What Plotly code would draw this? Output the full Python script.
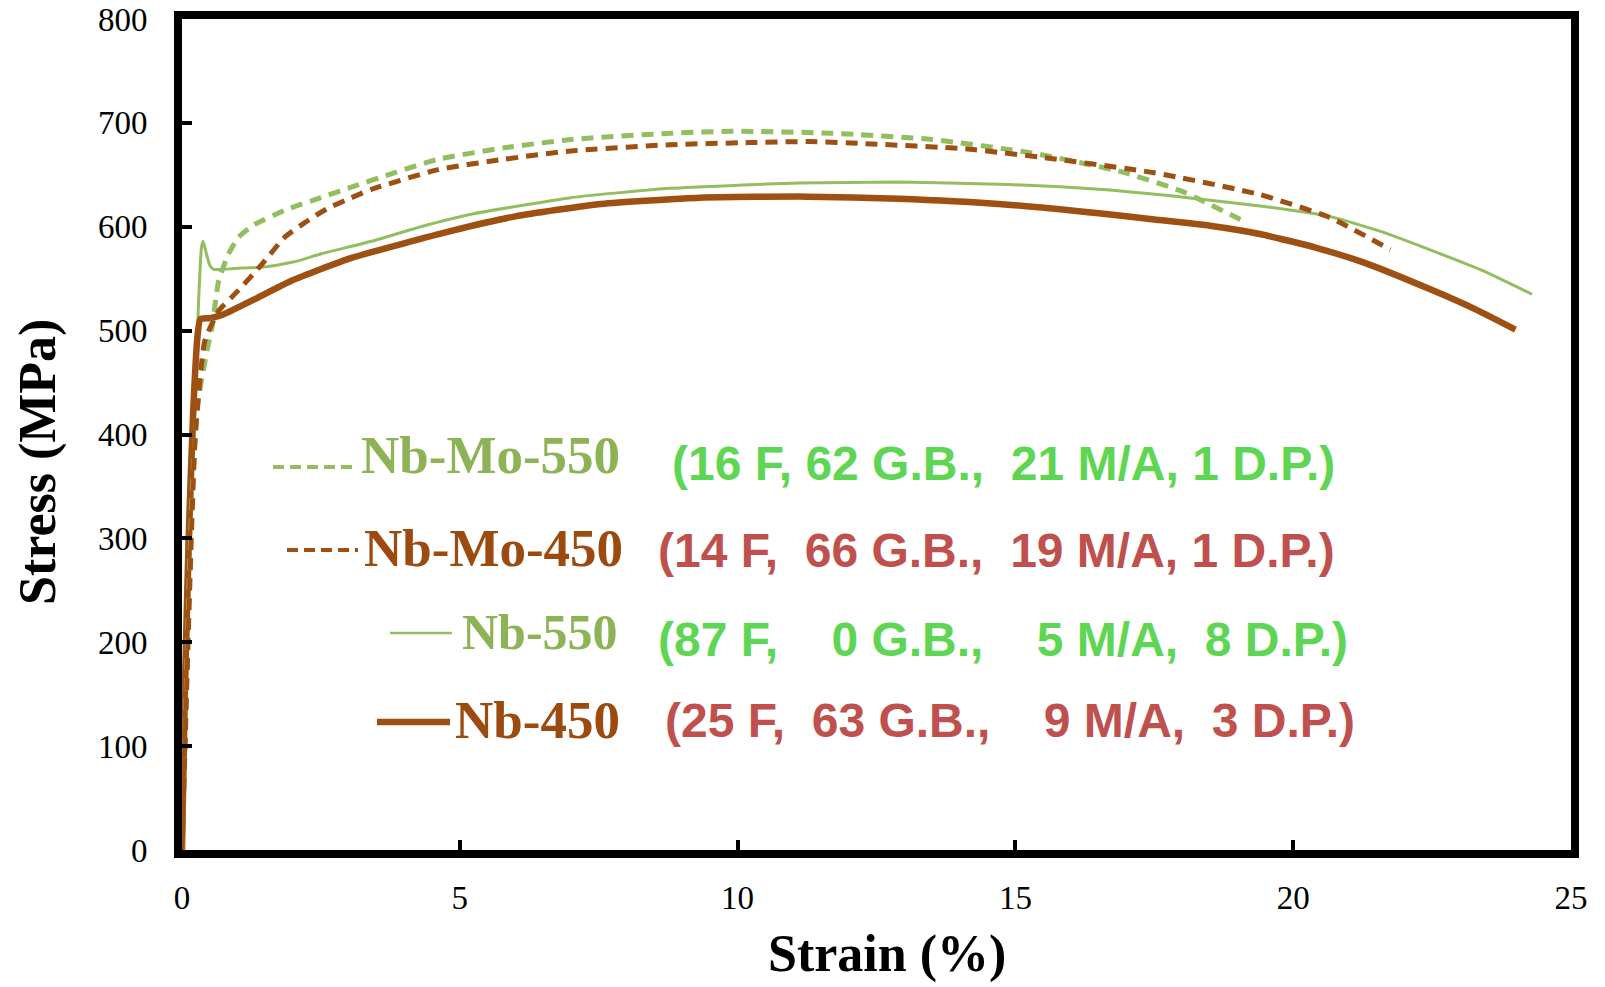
import plotly.graph_objects as go

# ---------------- data ----------------
nbmo550_strain = [0, 0.06, 0.12, 0.18, 0.24, 0.3, 0.45, 0.54, 0.66, 0.84, 1.02, 1.3, 1.9, 2.5,
                  3.1, 3.71, 4.61, 5.8, 7.0, 8.79, 9.93, 11.7, 13.5, 15.3, 16.9, 18.0, 19.05]
nbmo550_stress = [0, 120, 240, 340, 400, 436, 481, 503, 548, 574, 590, 602, 617, 628,
                  639, 650, 665, 676, 684, 690, 692, 690, 684, 671, 653, 634, 607]

nbmo450_strain = [0, 0.06, 0.12, 0.18, 0.24, 0.41, 0.66, 1.02, 1.44, 1.85, 2.21, 2.6, 3.05, 3.41,
                  4.61, 5.8, 7.0, 8.79, 10.2, 11.3, 12.3, 14.1, 15.6, 17.5, 19.4, 20.65, 21.75]
nbmo450_stress = [0, 110, 220, 320, 400, 490, 519, 539, 564, 590, 604, 617, 628, 636,
                  655, 665, 673, 679, 681, 682, 680, 675, 666, 652, 631, 609, 578]

nb550_strain = [0, 0.08, 0.16, 0.24, 0.3, 0.35, 0.38, 0.43, 0.5, 0.57, 1.0, 1.44, 2.0, 2.51,
                3.41, 4.3, 5.2, 7.0, 8.79, 11.1, 12.9, 14.7, 16.5, 18.1, 19.4, 20.65, 21.6,
                22.5, 23.4, 24.3]
nb550_stress = [0, 150, 300, 440, 530, 580, 586, 576, 563, 559, 560, 561, 566, 574,
                586, 600, 612, 628, 637, 642, 643, 641, 636, 628, 620, 610, 595,
                577, 558, 535]

nb450_strain = [0, 0.05, 0.12, 0.2, 0.28, 0.33, 0.5, 0.72, 1.3, 1.97, 3.05, 4.85, 6.0, 7.54,
                9.33, 11.25, 12.9, 14.7, 16.5, 17.5, 18.5, 19.4, 20.4, 21.3, 22.5, 23.3, 24.0]
nb450_stress = [0, 150, 300, 420, 495, 511, 512, 515, 530, 548, 570, 596, 610, 622,
                628, 629, 627, 622, 613, 607, 601, 593, 580, 565, 539, 520, 501]

series_names = ["Nb-Mo-550", "Nb-Mo-450", "Nb-550", "Nb-450"]
composition_labels = [
    "(16 F, 62 G.B.,  21 M/A, 1 D.P.)",
    "(14 F,  66 G.B.,  19 M/A, 1 D.P.)",
    "(87 F,    0 G.B.,    5 M/A,  8 D.P.)",
    "(25 F,  63 G.B.,    9 M/A,  3 D.P.)",
]
x_ticks = [0, 5, 10, 15, 20, 25]
y_ticks = [0, 100, 200, 300, 400, 500, 600, 700, 800]

# ---------------- styles ----------------
GREEN = "#93BE5F"
BROWN = "#9E4F12"
GREEN_LBL = "#8DB356"
BROWN_LBL = "#9B4A10"
TXT_GREEN = "#5ED653"
TXT_RED = "#C0504D"
SERIF = "Liberation Serif, Times New Roman, serif"
SANS = "Liberation Sans, Arial, sans-serif"

fig = go.Figure()
dash = "12px,8px"
fig.add_trace(go.Scatter(x=nb550_strain, y=nb550_stress, mode="lines", name=series_names[2],
                         line=dict(color=GREEN, width=3, shape="spline", smoothing=0.5)))
fig.add_trace(go.Scatter(x=nb450_strain, y=nb450_stress, mode="lines", name=series_names[3],
                         line=dict(color=BROWN, width=6.5, shape="spline", smoothing=0.5)))
fig.add_trace(go.Scatter(x=nbmo550_strain, y=nbmo550_stress, mode="lines", name=series_names[0],
                         line=dict(color=GREEN, width=5, dash=dash, shape="spline", smoothing=0.5)))
fig.add_trace(go.Scatter(x=nbmo450_strain, y=nbmo450_stress, mode="lines", name=series_names[1],
                         line=dict(color=BROWN, width=5, dash=dash, shape="spline", smoothing=0.5)))

L, R, T, B = 182, 1571, 19, 850
W = R - L
H = B - T


def px(xp):
    return (xp - L) / W


def py(yp):
    return (B - yp) / H


annotations = []
# legend-like labels
lbl_pos = [(622, 455, GREEN_LBL, 53), (625, 548, BROWN_LBL, 53),
           (620, 632, GREEN_LBL, 50), (622, 720, BROWN_LBL, 53)]
for name, (xr, yc, col, fs) in zip(series_names, lbl_pos):
    annotations.append(dict(text="<b>%s</b>" % name, x=px(xr), y=py(yc), xref="paper", yref="paper",
                            xanchor="right", yanchor="middle", showarrow=False,
                            font=dict(family=SERIF, size=fs, color=col)))

txt_pos = [(670, 463, TXT_GREEN), (656, 550, TXT_RED), (656, 639, TXT_GREEN), (663, 720, TXT_RED)]
for t, (xl, yc, col) in zip(composition_labels, txt_pos):
    annotations.append(dict(text="<b>%s</b>" % t.replace(" ", "\u00a0"), x=px(xl), y=py(yc),
                            xref="paper", yref="paper", xanchor="left", yanchor="middle",
                            showarrow=False, font=dict(family=SANS, size=48, color=col)))

# axis titles
annotations.append(dict(text="<b>Stress (MPa)</b>", x=px(38), y=py(462), xref="paper", yref="paper",
                        xanchor="center", yanchor="middle", textangle=-90, showarrow=False,
                        font=dict(family=SERIF, size=52, color="black")))
annotations.append(dict(text="<b>Strain (%)</b>", x=px(887), y=py(954), xref="paper", yref="paper",
                        xanchor="center", yanchor="middle", showarrow=False,
                        font=dict(family=SERIF, size=52, color="black")))

shapes = []
samples = [
    (273, 353, 467, GREEN, 4, "dash"),
    (287, 358, 550, BROWN, 4, "dash"),
    (390, 452, 633, GREEN, 2.5, "solid"),
    (377, 450, 722, BROWN, 6.5, "solid"),
]
for x0, x1, yy, col, w, d in samples:
    shapes.append(dict(type="line", xref="paper", yref="paper", x0=px(x0), x1=px(x1),
                       y0=py(yy), y1=py(yy), line=dict(color=col, width=w,
                                                       dash="11px,6px" if d == "dash" else "solid")))

fig.update_layout(
    width=1605, height=987,
    margin=dict(l=L, r=1605 - R, t=T, b=987 - B, pad=0, autoexpand=False),
    paper_bgcolor="white", plot_bgcolor="white",
    showlegend=False,
    annotations=annotations,
    shapes=shapes,
    xaxis=dict(range=[0, 25], tickvals=x_ticks, ticktext=[str(v) for v in x_ticks],
               showgrid=False, zeroline=False, showline=True, linecolor="black", linewidth=8,
               mirror=True, ticks="inside", ticklen=10, tickwidth=4, tickcolor="black",
               automargin=False,
               tickfont=dict(family=SERIF, size=33, color="black"), ticklabelstandoff=11),
    yaxis=dict(range=[0, 800], tickvals=y_ticks, ticktext=[str(v) for v in y_ticks],
               showgrid=False, zeroline=False, showline=True, linecolor="black", linewidth=8,
               mirror=True, ticks="inside", ticklen=10, tickwidth=4, tickcolor="black",
               automargin=False,
               tickfont=dict(family=SERIF, size=33, color="black"), ticklabelstandoff=20),
)

fig.write_html("out.html")
